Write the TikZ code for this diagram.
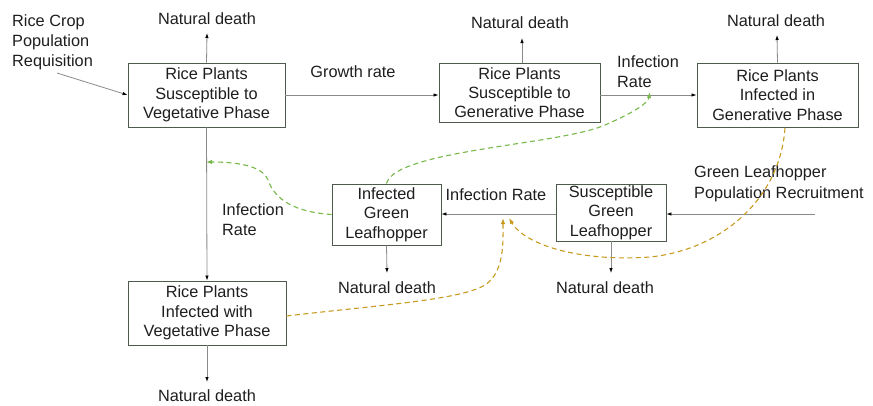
\documentclass[tikz,border=0pt]{standalone}
\usepackage{fontspec}
\setmainfont{Liberation Sans}
\usetikzlibrary{arrows.meta}
\definecolor{boxc}{HTML}{4D5A4D}
\definecolor{linec}{HTML}{8A8A8A}
\definecolor{greenc}{HTML}{76B84A}
\definecolor{orangec}{HTML}{C89B1E}
\definecolor{txt}{HTML}{1E1E1E}
\tikzset{
  box/.style={draw=boxc, line width=0.9pt, fill=white, align=center, inner sep=0pt, text=txt, font=\fontsize{16.3}{19.3}\selectfont},
  lab/.style={align=center, inner sep=0pt, text=txt, font=\fontsize{16.3}{20}\selectfont},
  labl/.style={align=left, inner sep=0pt, text=txt, font=\fontsize{16.3}{20}\selectfont},
  flow/.style={draw=linec, line width=0.8pt, -{Latex[length=5pt,width=3.5pt,black]}},
  gdash/.style={draw=greenc, line width=1.1pt, dash pattern=on 5pt off 3.5pt, -{Latex[length=6pt,width=4.5pt]}},
  odash/.style={draw=orangec, line width=1.1pt, dash pattern=on 5pt off 3.5pt, -{Latex[length=6pt,width=4.5pt]}}
}
\begin{document}
\begin{tikzpicture}[x=1pt,y=-1pt]
\useasboundingbox (0,0) rectangle (873,405);
% boxes
\node[box, minimum width=157pt, minimum height=64pt] (b1) at (206.5,95) {Rice Plants\\Susceptible to\\Vegetative Phase};
\node[box, minimum width=161pt, minimum height=59pt] (b2) at (519.5,92.5) {Rice Plants\\Susceptible to\\Generative Phase};
\node[box, minimum width=161pt, minimum height=64pt] (b3) at (777.5,95) {Rice Plants\\Infected in\\Generative Phase};
\node[box, minimum width=109pt, minimum height=61pt] (b4) at (386.5,214.5) {Infected\\Green\\Leafhopper};
\node[box, minimum width=110pt, minimum height=57pt] (b5) at (611,212.5) {Susceptible\\Green\\Leafhopper};
\node[box, minimum width=158pt, minimum height=64pt] (b6) at (207,313) {Rice Plants\\Infected with\\Vegetative Phase};
% labels
\node[labl, anchor=north west] (req) at (12,14) {Rice Crop\\Population\\Requisition};
\node[lab] (nd1) at (207,19) {Natural death};
\node[lab] (nd2) at (520,23) {Natural death};
\node[lab] (nd3) at (776,21) {Natural death};
\node[lab] (nd4) at (387,288) {Natural death};
\node[lab] (nd5) at (605,288) {Natural death};
\node[lab] (nd6) at (207,396) {Natural death};
\node[lab] (gr) at (353,72) {Growth rate};
\node[labl, anchor=north west] (ir1) at (617,55) {Infection\\Rate};
\node[labl, anchor=north west] (ir2) at (222,203) {Infection\\Rate};
\node[lab] (ir3) at (496,195) {Infection Rate};
\node[labl, anchor=north west, font=\fontsize{16.3}{21.5}\selectfont] (rec) at (694,165) {Green Leafhopper\\Population Recruitment};
% free ends
\coordinate (reqend) at (57,73);
\coordinate (recend) at (815,214);
\coordinate (g1) at (650,92);
\coordinate (g2) at (206,162);
\coordinate (o1) at (503,218);
\coordinate (o2) at (509,218);
% flows
\draw[flow] (reqend) -- (b1.west |- 0,95);
\draw[flow] (b1.east) -- (b2.west |- b1.east);
\draw[flow] (b2.east |- b3.west) -- (b3.west);
\draw[flow] (b1.south) -- (b6.north);
\draw[flow] (b5.west |- 0,214) -- (b4.east |- 0,214);
\draw[flow] (recend) -- (b5.east |- recend);
\draw[flow] (b1.north) -- (nd1.south |- 0,33);
\draw[flow] (b2.north -| 522,0) -- (522,38);
\draw[flow] (b3.north) -- (777,35);
\draw[flow] (b4.south) -- (387,273);
\draw[flow] (b5.south) -- (611,273);
\draw[flow] (b6.south) -- (207,382);
% influences
\draw[gdash] (b4.north) .. controls (395,150) and (560,145) .. (605,125) .. controls (635,112) and (648,103) .. (g1);
\draw[gdash] (b4.west) .. controls (295,212) and (275,200) .. (268,180) .. controls (262,165) and (235,162) .. (g2);
\draw[odash] (b6.east |- 0,316) .. controls (380,305) and (460,300) .. (485,285) .. controls (505,272) and (503,240) .. (o1);
\draw[odash] (785,128) .. controls (780,200) and (720,250) .. (650,257) .. controls (580,262) and (525,245) .. (o2);
\end{tikzpicture}
\end{document}
